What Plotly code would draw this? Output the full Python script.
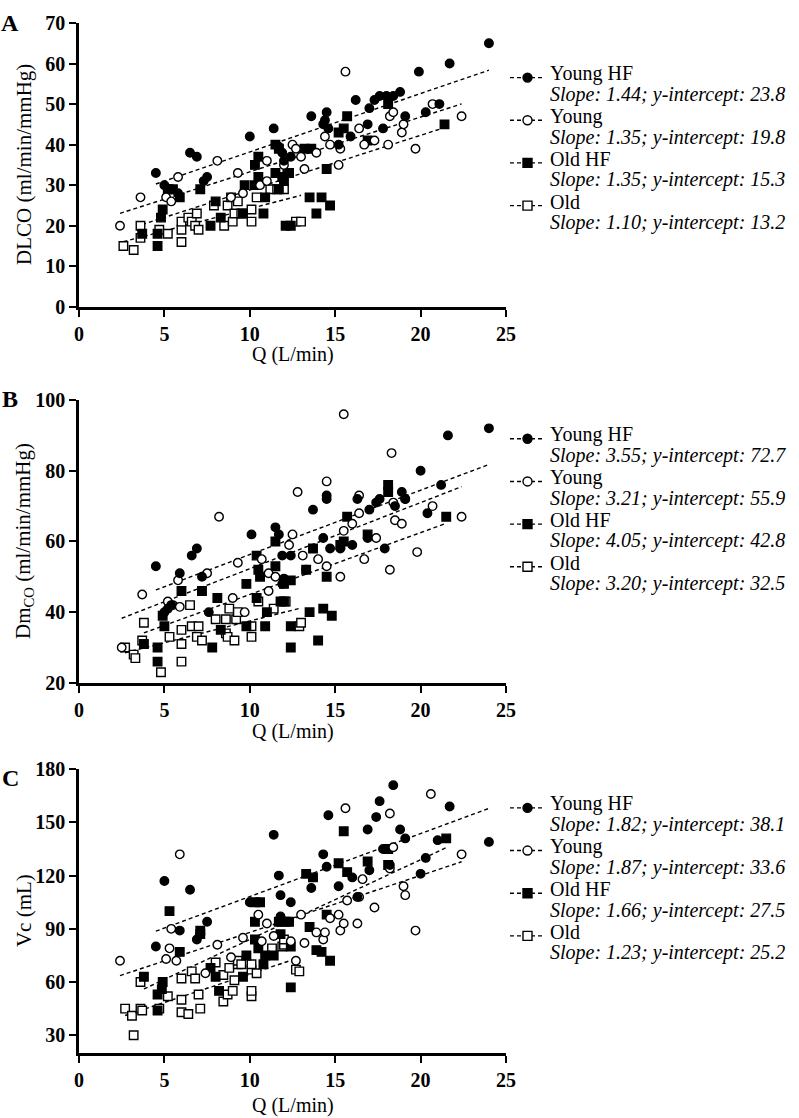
import plotly.graph_objects as go
import numpy as np

groups = ["Young HF", "Young", "Old HF", "Old"]

# ---------------- Panel A : DLCO ----------------
A_yhf_x = [4.5,5.0,5.4,5.8,6.5,6.9,7.3,7.5,10.0,11.4,11.7,11.9,12.0,12.4,13.6,14.3,14.4,14.5,14.6,15.2,15.9,16.2,16.9,17.0,17.3,17.6,17.8,18.0,18.4,18.8,19.1,19.9,20.3,21.1,21.7,24.0]
A_yhf_y = [33,30,29,28,38,37,31,32,42,44,39.5,38,36,37,47,45,46,48,44,40,42,51,45,49,51,52,44,52,52,53,47,58,48,50,60,65]
A_y_x = [2.4,3.6,5.1,5.4,5.8,8.1,8.9,9.3,9.6,10.6,11.0,11.0,12.0,12.5,12.7,13.0,13.2,13.9,14.4,14.7,15.2,15.3,15.6,16.4,16.7,17.3,18.1,18.2,18.4,18.9,19.0,19.7,20.7,22.4]
A_y_y = [20,27,27,26,32,36,27,33,28,30,31,36,35,40,39,37,34,38,42,40,35,39,58,44,40,41,40,47,48,43,45,39,50,47]
A_ohf_x = [3.7,4.6,4.6,4.8,4.9,5.2,5.5,5.9,7.1,7.7,8.0,8.3,9.6,9.7,10.3,10.3,10.5,10.5,10.8,10.9,11.5,11.5,11.7,11.7,11.9,12.0,12.1,12.2,12.3,12.4,13.2,13.5,13.6,13.9,14.2,14.5,14.7,15.2,15.5,15.7,16.9,18.1,21.4]
A_ohf_y = [18,15,18,22,24,29,29,27,29,20,26,22,23,30,30,35,32,37,23,27,40,33,39,29,32,31,20,33,33,20,39,27,39,23,27,34,25,43,44,47,41,50,45]
A_o_x = [2.6,3.2,3.6,3.6,4.7,5.2,6.0,6.0,6.0,6.4,6.6,6.8,6.9,7.0,7.9,8.5,8.7,8.9,9.0,9.1,9.3,9.5,10.1,10.1,10.4,11.2,11.6,12.0,12.7,13.0]
A_o_y = [15,14,17,20,19,18,16,19,21,22,21,20,23,19,25,20,25,27,21,23,26,23,21,24,27,29,29,29,21,21]
A_slope = [1.44, 1.35, 1.35, 1.10]
A_icpt = [23.8, 19.8, 15.3, 13.2]
A_legend = ["Slope: 1.44; y-intercept: 23.8", "Slope: 1.35; y-intercept: 19.8",
            "Slope: 1.35; y-intercept: 15.3", "Slope: 1.10; y-intercept: 13.2"]

# ---------------- Panel B : DmCO ----------------
B_yhf_x = [4.5,5.0,5.2,5.4,5.9,6.6,6.9,7.2,7.6,10.1,11.5,11.7,11.9,11.9,12.0,12.4,13.3,13.7,14.3,14.5,14.5,14.7,15.3,16.0,16.3,16.9,17.0,17.4,17.6,17.9,18.5,18.9,19.1,20.0,20.4,21.2,21.6,24.0]
B_yhf_y = [53,40,41,42,51,56,58,50,40,62,64,62,56,48,49.5,56,52,69,61,72,73,58,58,59,72,61,69,71,72,58,70,74,72,80,68,76,90,92]
B_y_x = [2.5,3.7,5.2,5.5,5.8,5.9,7.5,8.2,9.0,9.3,9.7,10.7,11.1,11.1,11.5,12.3,12.5,12.8,13.1,14.0,14.5,14.5,15.3,15.5,15.5,16.0,16.4,16.4,16.7,17.4,18.2,18.3,18.4,18.5,18.9,19.1,19.8,20.7,22.4]
B_y_y = [30,45,43,42,49,41.5,51,67,44,54,40,55,46,51,50,59,62,74,56,55,53,77,50,63,96,65,68,73,55,61,52,85,71,66,65,72,57,70,67]
B_ohf_x = [3.8,4.6,4.6,4.9,5.0,6.0,7.2,7.8,8.1,8.3,9.8,9.8,10.4,10.4,10.5,10.6,10.9,11.0,11.5,11.5,11.8,12.0,12.0,12.4,12.4,12.4,13.3,13.5,13.7,14.0,14.3,14.5,14.8,15.3,15.5,15.7,16.9,18.1,18.1,21.5]
B_ohf_y = [31,26,30,39,36,46,46,30,44,35,36,48,44,56,52,50,36,40,53,60,43,43,48,30,36,49,52,40,58,32,41,50,39,59,60,67,62,74,76,67]
B_o_x = [2.7,3.2,3.3,3.7,3.8,4.8,5.3,6.0,6.0,6.0,6.5,6.6,6.9,7.0,7.2,8.0,8.6,8.6,8.7,8.8,9.1,9.2,9.3,10.1,10.1,10.5,11.4,12.1,12.9,13.0]
B_o_y = [30,28,27,32,37,23,33,26,31,35,42,36,33,36,32,38,34,38,33,41,32,38,40,33,36,43,41,43,36,37]
B_slope = [1.82, 1.87, 1.75, 1.23]
B_icpt = [38.1, 33.6, 27.5, 25.2]
B_legend = ["Slope: 3.55; y-intercept: 72.7", "Slope: 3.21; y-intercept: 55.9",
            "Slope: 4.05; y-intercept: 42.8", "Slope: 3.20; y-intercept: 32.5"]

# ---------------- Panel C : Vc ----------------
C_yhf_x = [4.5,5.0,5.9,6.5,6.9,7.1,7.5,10.0,11.4,11.7,11.8,11.8,11.8,12.4,13.6,14.3,14.5,14.6,15.2,16.0,16.3,16.9,17.0,17.4,17.6,17.8,18.2,18.4,18.8,19.1,20.0,20.3,21.0,21.7,24.0]
C_yhf_y = [80,117,89,112,84,87,94,105,143,120,94,97,109,105,113,132,125,154,114,119,108,146,123,153,162,135,126,171,146,141,121,130,140,159,139]
C_y_x = [2.4,5.1,5.3,5.4,5.7,5.9,7.4,8.1,8.9,9.6,10.5,10.7,11.0,11.4,12.4,12.7,13.0,13.2,13.9,14.3,14.4,14.7,15.2,15.3,15.5,15.6,15.7,16.3,16.4,16.6,17.3,18.2,18.2,18.4,19.0,19.1,19.7,20.6,22.4]
C_y_y = [72,73,79,90,72,132,65,81,74,85,98,83,93,86,83,72,98,82,88,84,88,96,98,89,93,158,106,93,108,118,102,124,155,136,114,109,89,166,132]
C_ohf_x = [3.8,4.6,4.6,4.85,4.9,5.3,5.9,7.1,7.1,7.7,8.0,8.2,9.6,9.8,10.3,10.3,10.3,10.5,10.6,10.8,10.9,11.4,11.7,11.8,12.1,12.3,12.4,12.4,13.3,13.5,13.7,13.9,14.2,14.5,14.7,15.2,15.5,15.7,16.9,18.1,18.1,21.5]
C_ohf_y = [63,44,53,56,60,100,77,87,89,68,63,55,63,75,84,94,105,79,105,70,75,75,94,87,94,94,57,80,121,91,119,78,77,98,72,127,145,122,128,126,135,141]
C_o_x = [2.7,3.1,3.2,3.6,3.6,3.7,4.7,5.2,6.0,6.0,6.0,6.4,6.6,6.8,7.0,7.1,8.0,8.45,8.45,8.7,8.8,9.0,9.1,9.3,9.3,9.5,10.1,10.1,10.1,10.1,10.4,11.3,11.9,12.0,12.0,12.7,12.9]
C_o_y = [45,41,30,45,60,44,45,52,43,50,62,42,66,62,53,45,71,49,64,53,68,55,61,70,72,70,52,55,67,70,65,79,80,81,84,67,66]
C_slope = [3.55, 3.21, 4.5, 3.20]
C_icpt = [72.7, 55.9, 39.0, 32.5]
C_legend = ["Slope: 1.82; y-intercept: 38.1", "Slope: 1.87; y-intercept: 33.6",
            "Slope: 1.66; y-intercept: 27.5", "Slope: 1.23; y-intercept: 25.2"]

panels = [
    dict(xs=[A_yhf_x, A_y_x, A_ohf_x, A_o_x], ys=[A_yhf_y, A_y_y, A_ohf_y, A_o_y],
         slope=A_slope, icpt=A_icpt, legend=A_legend),
    dict(xs=[B_yhf_x, B_y_x, B_ohf_x, B_o_x], ys=[B_yhf_y, B_y_y, B_ohf_y, B_o_y],
         slope=B_slope, icpt=B_icpt, legend=B_legend),
    dict(xs=[C_yhf_x, C_y_x, C_ohf_x, C_o_x], ys=[C_yhf_y, C_y_y, C_ohf_y, C_o_y],
         slope=C_slope, icpt=C_icpt, legend=C_legend),
]

SERIF = "Liberation Serif, Times New Roman, serif"
W, H = 799, 1118
ML, MR, MT, MB = 79, 293, 15, 65
PW, PH = W - ML - MR, H - MT - MB


def fx(px):
    return (px - ML) / PW


def fy(py):
    return (H - MB - py) / PH


marker_symbol = ["circle", "circle", "square", "square"]
marker_fill = ["black", "white", "black", "white"]

fig = go.Figure()
for pi, p in enumerate(panels):
    xa = "x" if pi == 0 else f"x{pi+1}"
    ya = "y" if pi == 0 else f"y{pi+1}"
    for gi in range(4):
        xs = np.array(p["xs"][gi], dtype=float)
        lx = np.array([xs.min(), xs.max()])
        ly = p["slope"][gi] * lx + p["icpt"][gi]
        fig.add_trace(go.Scatter(x=lx, y=ly, mode="lines", xaxis=xa, yaxis=ya,
                                 line=dict(color="black", width=1.4, dash="4px,3px"),
                                 showlegend=False, hoverinfo="skip"))
    for gi in [3, 2, 1, 0]:
        fig.add_trace(go.Scatter(x=p["xs"][gi], y=p["ys"][gi], mode="markers",
                                 xaxis=xa, yaxis=ya, name=groups[gi], showlegend=False,
                                 marker=dict(symbol=marker_symbol[gi], size=8.5,
                                             color=marker_fill[gi],
                                             line=dict(color="black", width=1.4))))

axis_common = dict(showline=True, linecolor="black", linewidth=2.5, ticks="outside",
                   ticklen=7, tickwidth=2, tickcolor="black", showgrid=False,
                   zeroline=False,
                   tickfont=dict(family=SERIF, size=20, color="black", weight="bold"))

dA = [fy(301), fy(15)]
dB = [fy(680), fy(395)]
dC = [0.0, fy(767)]

fig.update_layout(
    width=W, height=H, plot_bgcolor="white", paper_bgcolor="white",
    margin=dict(l=ML, r=MR, t=MT, b=MB),
    showlegend=False,
    xaxis=dict(domain=[0, 1], range=[0, 25], tickvals=[0, 5, 10, 15, 20, 25], anchor="y", **axis_common),
    yaxis=dict(domain=dA, range=[0, 70], tickvals=list(range(0, 71, 10)), anchor="x", **axis_common),
    xaxis2=dict(domain=[0, 1], range=[0, 25], tickvals=[0, 5, 10, 15, 20, 25], anchor="y2", **axis_common),
    yaxis2=dict(domain=dB, range=[20, 100], tickvals=[20, 40, 60, 80, 100], anchor="x2", **axis_common),
    xaxis3=dict(domain=[0, 1], range=[0, 25], tickvals=[0, 5, 10, 15, 20, 25], anchor="y3", **axis_common),
    yaxis3=dict(domain=dC, range=[20, 180], tickvals=[30, 60, 90, 120, 150, 180], anchor="x3", **axis_common),
)

annotations = []
shapes = []
txtfont = dict(family=SERIF, size=20, color="black")

# panel letters, axis titles
for letter, py in [("A", 15), ("B", 394), ("C", 776)]:
    annotations.append(dict(text=f"<b>{letter}</b>", x=fx(10), y=fy(py), xref="paper", yref="paper",
                            xanchor="center", yanchor="middle", showarrow=False,
                            font=dict(family=SERIF, size=24, color="black")))
ytitles = [("DLCO (ml/min/mmHg)", 158), ("Dm<sub>CO</sub> (ml/min/mmHg)", 537), ("Vc (mL)", 910)]
for t, py in ytitles:
    annotations.append(dict(text=t, x=fx(24), y=fy(py), xref="paper", yref="paper", textangle=-90,
                            xanchor="center", yanchor="middle", showarrow=False,
                            font=dict(family=SERIF, size=21, color="black")))
for py in [349, 729, 1106]:
    annotations.append(dict(text="Q (L/min)", x=fx(293), y=fy(py), xref="paper", yref="paper",
                            xanchor="center", yanchor="middle", showarrow=False,
                            font=dict(family=SERIF, size=20, color="black")))

# legends
leg_top = [66, 430, 802]
for pi, p in enumerate(panels):
    for gi in range(4):
        yn = leg_top[pi] + 43 * gi
        ysl = yn + 21
        annotations.append(dict(text=groups[gi], x=fx(548), y=fy(yn), xref="paper", yref="paper",
                                xanchor="left", yanchor="middle", showarrow=False, font=txtfont))
        annotations.append(dict(text=f"<i>{p['legend'][gi]}</i>", x=fx(548), y=fy(ysl), xref="paper",
                                yref="paper", xanchor="left", yanchor="middle", showarrow=False,
                                font=txtfont))
        ysym = yn + 4
        shapes.append(dict(type="line", xref="paper", yref="paper", x0=fx(510), x1=fx(545),
                           y0=fy(ysym), y1=fy(ysym), line=dict(color="black", width=1.4, dash="4px,3px")))
        shapes.append(dict(type="circle" if gi < 2 else "rect", xref="paper", yref="paper",
                           xsizemode="pixel", ysizemode="pixel", xanchor=fx(527.5), yanchor=fy(ysym),
                           x0=-4.5, x1=4.5, y0=-4.5, y1=4.5, fillcolor=marker_fill[gi],
                           line=dict(color="black", width=1.4)))

fig.update_layout(annotations=annotations, shapes=shapes)
fig.write_html("out.html", config={"displayModeBar": False},
               post_script="document.body.style.margin='0';document.body.style.overflow='hidden';")
